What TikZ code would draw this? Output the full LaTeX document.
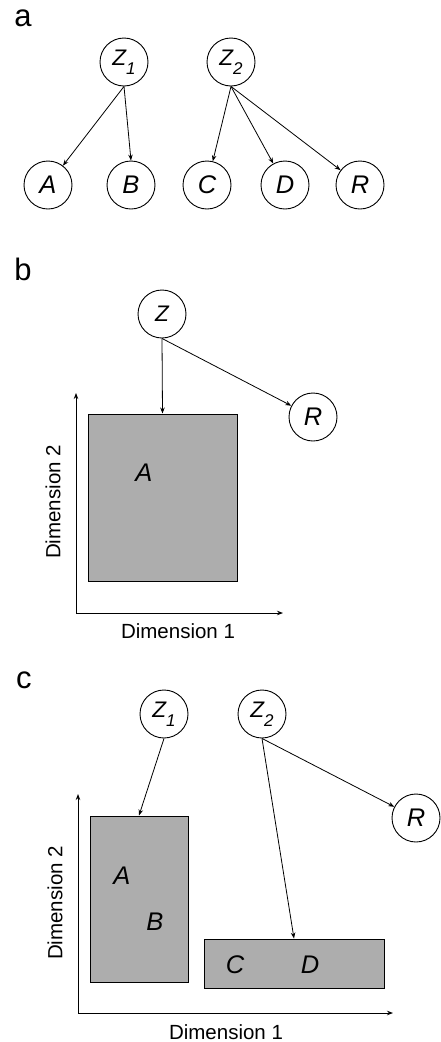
\documentclass[tikz,border=0pt]{standalone}
\usepackage{fontspec}
\setmainfont{Liberation Sans}
\usetikzlibrary{arrows.meta}
\definecolor{boxgray}{HTML}{ADADAD}
\newcommand\zsub[1]{\raisebox{-9pt}{\fontsize{17}{17}\selectfont #1}}
\begin{document}
\begin{tikzpicture}[x=1pt,y=-1pt,
  var/.style={circle, draw, line width=0.9pt, minimum size=48pt, inner sep=0pt, fill=white,
              font=\fontsize{25.5}{25.5}\selectfont\itshape},
  zvar/.style={var, font=\fontsize{22.5}{22.5}\selectfont\itshape},
  arr/.style={-{Stealth[length=6pt,width=4.5pt]}, line width=0.8pt},
  axis/.style={-{Stealth[length=6pt,width=4.5pt]}, line width=0.9pt},
  region/.style={draw, fill=boxgray, line width=1pt, inner sep=0pt},
  lbl/.style={font=\fontsize{25.5}{25.5}\selectfont\itshape},
  panel/.style={font=\fontsize{31}{31}\selectfont, inner sep=0pt, anchor=base},
  dim/.style={font=\fontsize{20.5}{20.5}\selectfont}]
\useasboundingbox (0,0) rectangle (440,1042);

% ---------- panel a ----------
\node[panel] (pa) at (23,26) {a};
\node[zvar] (aZ1) at (124,62) {Z\zsub{1}};
\node[zvar] (aZ2) at (231,62) {Z\zsub{2}};
\node[var] (aA) at (48,185) {A};
\node[var] (aB) at (131,185) {B};
\node[var] (aC) at (207,185) {C};
\node[var] (aD) at (285,185) {D};
\node[var] (aR) at (360,185) {R};
\draw[arr] (aZ1.south) -- (aA);
\draw[arr] (aZ1.south) -- (aB.north);
\draw[arr] (aZ2.south) -- (aC);
\draw[arr] (aZ2.south) -- (aD);
\draw[arr] (aZ2.south) -- (aR);

% ---------- panel b ----------
\node[panel] (pb) at (23,280) {b};
\coordinate (bO) at (76,613);
\coordinate (bY) at (76,393);
\coordinate (bX) at (283,613);
\draw[axis] (bO) -- (bY);
\draw[axis] (bO) -- (bX);
\node[region, minimum width=149pt, minimum height=167pt] (bRect) at (162.5,497.5) {};
\node[lbl] (bA) at (144,473) {A};
\node[zvar] (bZ) at (162,314) {Z};
\node[var] (bR) at (313,417) {R};
\draw[arr] (bZ.south) -- (bRect.north);
\draw[arr] (bZ.south) -- (bR);
\node[dim, rotate=90] (bd2) at (53,502) {Dimension 2};
\node[dim] (bd1) at (178,631) {Dimension 1};

% ---------- panel c ----------
\node[panel] (pc) at (24,688) {c};
\coordinate (cO) at (78,1013);
\coordinate (cY) at (78,794);
\coordinate (cX) at (393,1013);
\draw[axis] (cO) -- (cY);
\draw[axis] (cO) -- (cX);
\node[region, minimum width=98pt, minimum height=166pt] (cR1) at (139,899) {};
\node[region, minimum width=180pt, minimum height=49pt] (cR2) at (294,963.5) {};
\node[lbl] (cA) at (122,876) {A};
\node[lbl] (cB) at (155,922) {B};
\node[lbl] (cC) at (235,965) {C};
\node[lbl] (cD) at (310,965) {D};
\node[zvar] (cZ1) at (164,714) {Z\zsub{1}};
\node[zvar] (cZ2) at (262,714) {Z\zsub{2}};
\node[var] (cR) at (416,818) {R};
\draw[arr] (cZ1.south) -- (cR1.north);
\draw[arr] (cZ2.south) -- (cR2.north);
\draw[arr] (cZ2.south) -- (cR);
\node[dim, rotate=90] (cd2) at (55,903) {Dimension 2};
\node[dim] (cd1) at (226,1032) {Dimension 1};
\end{tikzpicture}
\end{document}
